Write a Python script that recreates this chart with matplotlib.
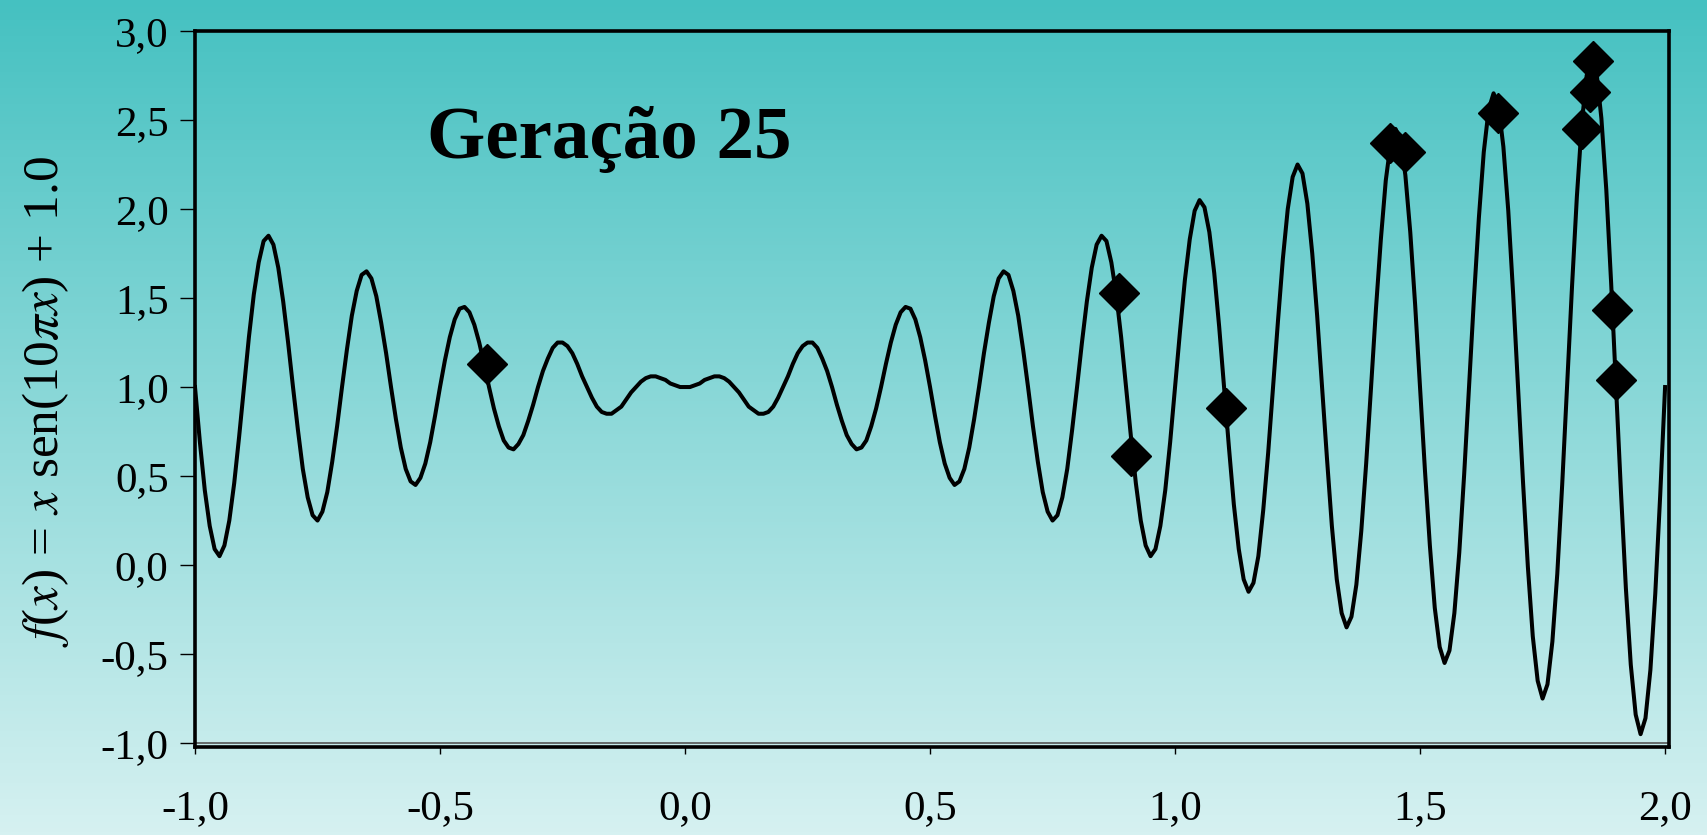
import numpy as np
import matplotlib
matplotlib.use('Agg')
import matplotlib.pyplot as plt

# curve f(x) = x sen(10 pi x) + 1 at steps of 0.01 from -1 to 2
y_curve = [
    1.00, 0.69, 0.42, 0.22, 0.09, 0.05, 0.11, 0.25, 0.46, 0.72, 1.00, 1.28, 1.52, 1.70, 1.82, 1.85, 1.80, 1.67, 1.48, 1.25,
    1.00, 0.76, 0.54, 0.38, 0.28, 0.25, 0.30, 0.41, 0.58, 0.78, 1.00, 1.21, 1.40, 1.54, 1.63, 1.65, 1.61, 1.51, 1.36, 1.19,
    1.00, 0.82, 0.66, 0.54, 0.47, 0.45, 0.49, 0.57, 0.69, 0.84, 1.00, 1.15, 1.28, 1.38, 1.44, 1.45, 1.42, 1.35, 1.25, 1.13,
    1.00, 0.88, 0.78, 0.70, 0.66, 0.65, 0.68, 0.73, 0.81, 0.90, 1.00, 1.09, 1.16, 1.22, 1.25, 1.25, 1.23, 1.19, 1.13, 1.06,
    1.00, 0.94, 0.89, 0.86, 0.85, 0.85, 0.87, 0.89, 0.93, 0.97, 1.00, 1.03, 1.05, 1.06, 1.06, 1.05, 1.04, 1.02, 1.01, 1.00,
    1.00, 1.00, 1.01, 1.02, 1.04, 1.05, 1.06, 1.06, 1.05, 1.03, 1.00, 0.97, 0.93, 0.89, 0.87, 0.85, 0.85, 0.86, 0.89, 0.94,
    1.00, 1.06, 1.13, 1.19, 1.23, 1.25, 1.25, 1.22, 1.16, 1.09, 1.00, 0.90, 0.81, 0.73, 0.68, 0.65, 0.66, 0.70, 0.78, 0.88,
    1.00, 1.13, 1.25, 1.35, 1.42, 1.45, 1.44, 1.38, 1.28, 1.15, 1.00, 0.84, 0.69, 0.57, 0.49, 0.45, 0.47, 0.54, 0.66, 0.82,
    1.00, 1.19, 1.36, 1.51, 1.61, 1.65, 1.63, 1.54, 1.40, 1.21, 1.00, 0.78, 0.58, 0.41, 0.30, 0.25, 0.28, 0.38, 0.54, 0.76,
    1.00, 1.25, 1.48, 1.67, 1.80, 1.85, 1.82, 1.70, 1.52, 1.28, 1.00, 0.72, 0.46, 0.25, 0.11, 0.05, 0.09, 0.22, 0.42, 0.69,
    1.00, 1.31, 1.60, 1.83, 1.99, 2.05, 2.01, 1.87, 1.64, 1.34, 1.00, 0.66, 0.34, 0.09, -0.08, -0.15, -0.10, 0.05, 0.31, 0.63,
    1.00, 1.37, 1.72, 2.00, 2.18, 2.25, 2.20, 2.03, 1.75, 1.40, 1.00, 0.60, 0.22, -0.08, -0.27, -0.35, -0.29, -0.11, 0.19, 0.57,
    1.00, 1.44, 1.83, 2.16, 2.37, 2.45, 2.39, 2.19, 1.87, 1.46, 1.00, 0.53, 0.11, -0.24, -0.46, -0.55, -0.48, -0.27, 0.07, 0.51,
    1.00, 1.50, 1.95, 2.32, 2.56, 2.65, 2.58, 2.35, 1.99, 1.52, 1.00, 0.47, -0.01, -0.40, -0.65, -0.75, -0.67, -0.43, -0.05, 0.45,
    1.00, 1.56, 2.07, 2.48, 2.75, 2.85, 2.77, 2.51, 2.11, 1.58, 1.00, 0.41, -0.13, -0.56, -0.84, -0.95, -0.86, -0.59, -0.16, 0.39,
    1.00,
]
x_curve = np.linspace(-1.0, 2.0, len(y_curve))

# population of generation 25 (diamonds)
pop_x = [-0.405, 0.886, 0.910, 1.103, 1.439, 1.469, 1.660, 1.830, 1.846, 1.852, 1.891, 1.900]
pop_y = [1.13, 1.53, 0.61, 0.88, 2.37, 2.32, 2.54, 2.45, 2.66, 2.83, 1.43, 1.04]

x_ticks = [-1.0, -0.5, 0.0, 0.5, 1.0, 1.5, 2.0]
x_tick_labels = ['-1,0', '-0,5', '0,0', '0,5', '1,0', '1,5', '2,0']
y_ticks = [-1.0, -0.5, 0.0, 0.5, 1.0, 1.5, 2.0, 2.5, 3.0]
y_tick_labels = ['-1,0', '-0,5', '0,0', '0,5', '1,0', '1,5', '2,0', '2,5', '3,0']

title = 'Geração 25'
ylabel = r'$f$($x$) = $x$ sen(10$\pi x$) + 1.0'

plt.rcParams['font.family'] = ['Liberation Serif', 'DejaVu Serif']
plt.rcParams['mathtext.fontset'] = 'stix'

W, H = 1708, 835
fig = plt.figure(figsize=(W / 100, H / 100), dpi=100)

# vertical gradient background for the whole slide
bg = fig.add_axes([0, 0, 1, 1], zorder=-10)
top = np.array([69, 193, 193]) / 255.0
bot = np.array([214, 241, 241]) / 255.0
t = np.linspace(0, 1, 256)[:, None]
grad = top[None, :] * (1 - t) + bot[None, :] * t
bg.imshow(grad[:, None, :], aspect='auto', extent=[0, 1, 0, 1])
bg.axis('off')

ax = fig.add_axes([195 / W, 1 - 747 / H, 1474 / W, 716 / H])
ax.set_facecolor('none')

ax.plot(x_curve, y_curve, color='black', lw=2.9, solid_joinstyle='round')
ax.axhline(-1.0, color='#555555', lw=1.2, zorder=1)
ax.plot(pop_x, pop_y, linestyle='none', marker='D', markersize=20,
        markerfacecolor='black', markeredgecolor='black', markeredgewidth=1, zorder=5)

ax.set_xlim(-1.0, 2.008)
ax.set_ylim(-1.022, 3.0)
ax.set_xticks(x_ticks)
ax.set_xticklabels(x_tick_labels)
ax.set_yticks(y_ticks)
ax.set_yticklabels(y_tick_labels)
ax.tick_params(axis='x', direction='out', length=5, width=1, pad=26, labelsize=31)
ax.tick_params(axis='y', direction='out', length=11, width=1, pad=8, labelsize=31)

for s in ax.spines.values():
    s.set_linewidth(2.6)
    s.set_color('black')

ax.set_ylabel(ylabel, fontsize=37)
ax.yaxis.set_label_coords(-0.084, 0.482)

fig.text(427 / W, 1 - 158 / H, title, fontsize=54, fontweight='bold',
         ha='left', va='baseline')

fig.savefig('out.png', dpi=100)
